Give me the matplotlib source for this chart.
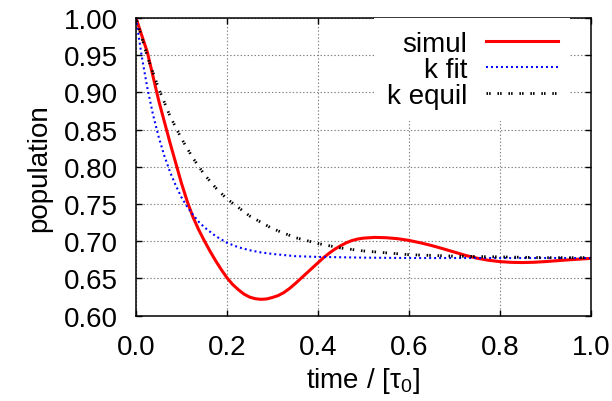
import matplotlib
matplotlib.use("Agg")
import matplotlib.pyplot as plt

plt.rcParams['font.family'] = ['Liberation Sans', 'DejaVu Sans']
plt.rcParams['mathtext.fontset'] = 'custom'
plt.rcParams['mathtext.rm'] = 'Liberation Sans'
plt.rcParams['mathtext.it'] = 'Liberation Sans:italic'
plt.rcParams['lines.scale_dashes'] = False

# values
t_simul = [0.0, 0.025, 0.05, 0.075, 0.1, 0.1125, 0.125, 0.1375, 0.15, 0.1625,
           0.175, 0.1875, 0.2, 0.2125, 0.225, 0.2375, 0.25, 0.2625, 0.275, 0.2875,
           0.3, 0.3125, 0.325, 0.3375, 0.35, 0.3625, 0.375, 0.3875, 0.4, 0.4125,
           0.425, 0.4375, 0.45, 0.4625, 0.475, 0.4875, 0.5, 0.525, 0.55, 0.575,
           0.6, 0.625, 0.65, 0.675, 0.7, 0.725, 0.75, 0.775, 0.8, 0.825,
           0.85, 0.875, 0.9, 0.95, 1.0]
p_simul = [1.000, 0.954, 0.889, 0.832, 0.778, 0.754, 0.733, 0.716, 0.701, 0.687,
           0.674, 0.662, 0.651, 0.642, 0.635, 0.629, 0.625, 0.6228, 0.622, 0.6225,
           0.6245, 0.627, 0.631, 0.6365, 0.643, 0.650, 0.657, 0.664, 0.671, 0.678,
           0.684, 0.6895, 0.694, 0.698, 0.701, 0.703, 0.7042, 0.7052, 0.7048, 0.7035,
           0.7012, 0.698, 0.6943, 0.690, 0.6855, 0.681, 0.6773, 0.6745, 0.6727, 0.6717,
           0.6714, 0.6718, 0.6727, 0.675, 0.677]

t_fit = [0.0, 0.0125, 0.025, 0.0375, 0.05, 0.0625, 0.075, 0.0875, 0.1, 0.1125,
         0.125, 0.1375, 0.15, 0.175, 0.2, 0.225, 0.25, 0.275, 0.3, 0.35,
         0.4, 0.5, 0.6, 0.7, 0.8, 0.9, 1.0]
p_fit = [1.000, 0.949, 0.906, 0.870, 0.840, 0.8145, 0.793, 0.775, 0.759, 0.7465,
         0.736, 0.7265, 0.719, 0.707, 0.698, 0.692, 0.688, 0.685, 0.683, 0.680,
         0.679, 0.678, 0.6775, 0.6775, 0.6775, 0.6775, 0.6775]

t_equil = [0.0, 0.025, 0.05, 0.075, 0.1, 0.125, 0.15, 0.175, 0.2, 0.25,
           0.3, 0.35, 0.4, 0.45, 0.5, 0.6, 0.7, 0.8, 0.9, 1.0]
p_equil = [1.000, 0.948, 0.905, 0.868, 0.838, 0.812, 0.790, 0.772, 0.757, 0.734,
           0.717, 0.705, 0.697, 0.691, 0.687, 0.682, 0.680, 0.679, 0.678, 0.678]

x_ticks = [0.0, 0.2, 0.4, 0.6, 0.8, 1.0]
y_ticks = [0.60, 0.65, 0.70, 0.75, 0.80, 0.85, 0.90, 0.95, 1.00]

fig = plt.figure(figsize=(6.12, 4.02), dpi=100)
ax = fig.add_axes([0.2222, 0.2122, 0.7430, 0.7405])

ax.plot(t_simul, p_simul, color='#ff0000', lw=2.2, label='simul', solid_joinstyle='round')
ax.plot(t_fit, p_fit, color='#0000ff', lw=1.5, linestyle=(0, (1.4, 2.2)), label='k fit')
ax.plot(t_equil, p_equil, color='black', lw=2.0, linestyle=(0, (1.1, 0.8, 1.1, 4.9)),
        label='k equil')

ax.set_xlim(0, 1)
ax.set_ylim(0.6, 1.0)
ax.set_xticks(x_ticks)
ax.set_yticks(y_ticks)
ax.set_xticklabels(['%.1f' % v for v in x_ticks])
ax.set_yticklabels(['%.2f' % v for v in y_ticks])
ax.tick_params(direction='in', length=4.5, width=1, top=True, right=True,
               labelsize=20, pad=13)
ax.grid(True, color='#808080', linestyle=(0, (1, 1.5)), lw=0.8)
ax.set_axisbelow(True)
for s in ax.spines.values():
    s.set_linewidth(1.1)

ax.set_xlabel(r'time / [τ$_0$]', fontsize=20, labelpad=4)
ax.set_ylabel('population', fontsize=20, labelpad=8)

leg = ax.legend(loc='upper right', bbox_to_anchor=(0.955, 1.0), borderaxespad=0,
                markerfirst=False, fontsize=20, handlelength=2.6, handletextpad=0.66,
                labelspacing=0.0, borderpad=0.45, frameon=True, fancybox=False,
                facecolor='white', edgecolor='none', framealpha=1)

fig.savefig('out.png', dpi=100)
